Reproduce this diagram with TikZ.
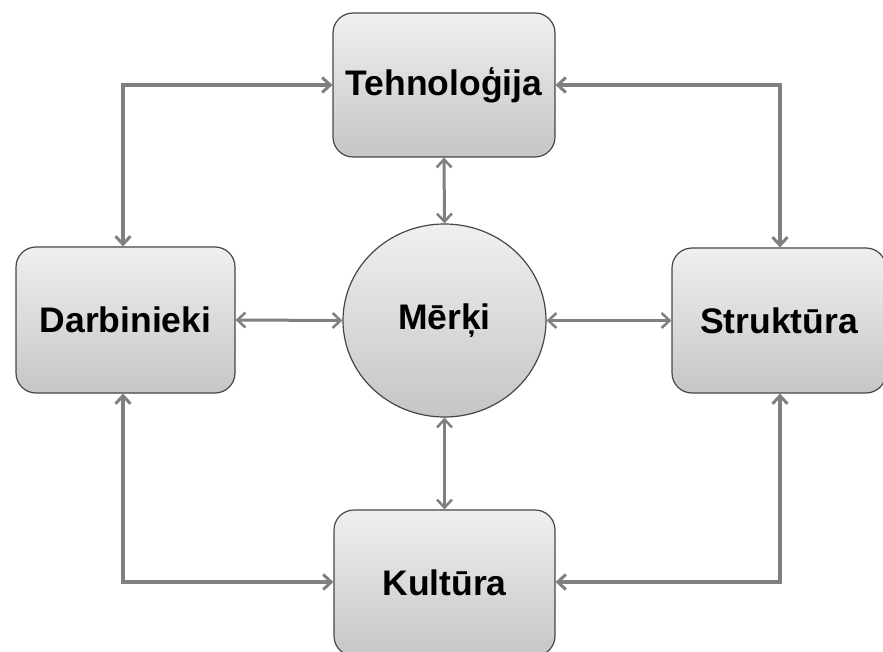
\documentclass[tikz,border=0pt]{standalone}
\usepackage{fontspec}
\setmainfont{Liberation Sans}
\usetikzlibrary{arrows.meta,shadings,shapes.geometric}
\definecolor{linegray}{RGB}{128,128,128}
\definecolor{edgegray}{RGB}{70,70,70}
\tikzset{
  lbl/.style={font=\fontsize{35.5}{40}\selectfont\bfseries, inner sep=0pt},
  box/.style={lbl, draw=edgegray, line width=1.2pt, rounded corners=20pt, top color=gray!12, bottom color=gray!45},
  hub/.style={lbl, ellipse, draw=edgegray, line width=1.2pt, top color=gray!12, bottom color=gray!45},
  outer/.style={draw=linegray, line width=4pt, {Straight Barb[length=8pt,width=15pt,line width=3pt]}-{Straight Barb[length=8pt,width=15pt,line width=3pt]}},
  inner/.style={draw=linegray, line width=3pt, {Straight Barb[length=8pt,width=15pt,line width=2.5pt]}-{Straight Barb[length=8pt,width=15pt,line width=2.5pt]}},
}
\begin{document}
\begin{tikzpicture}[x=1pt,y=-1pt]
\useasboundingbox (0,0) rectangle (883,652);
\node[box, minimum width=222pt, minimum height=144pt] (tech) at (444,85) {Tehnoloģija};
\node[box, minimum width=219pt, minimum height=146pt] (darb) at (125.5,320) {Darbinieki};
\node[box, minimum width=214pt, minimum height=145pt] (strk) at (779,320.5) {Struktūra};
\node[box, minimum width=221pt, minimum height=146pt] (kult) at (444.5,583) {Kultūra};
\node[hub, minimum width=203pt, minimum height=193pt] (merk) at (444.5,320.5) {Mērķi};
\coordinate (tl) at (123,85);
\coordinate (tr) at (780,85);
\coordinate (bl) at (123,582);
\coordinate (br) at (780,582);
\draw[outer] (tech.west |- tl) -- (tl) -- (tl |- darb.north);
\draw[outer] (tech.east |- tr) -- (tr) -- (tr |- strk.north);
\draw[outer] (bl |- darb.south) -- (bl) -- (kult.west |- bl);
\draw[outer] (br |- strk.south) -- (br) -- (kult.east |- br);
\draw[inner] (tech.south) -- (merk.north);
\draw[inner] (merk.south) -- (kult.north);
\draw[inner] (darb.east) -- (merk.west);
\draw[inner] (merk.east) -- (strk.west |- merk.east);
\end{tikzpicture}
\end{document}
